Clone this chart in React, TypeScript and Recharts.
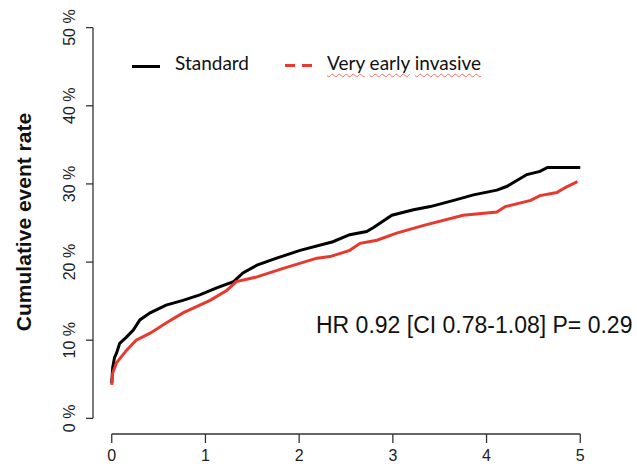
import { LineChart, Line, XAxis, YAxis, ReferenceLine } from "recharts";

const YEARS = [0, 1, 2, 3, 4, 5];
const RATE_TICKS = [0, 10, 20, 30, 40, 50];

const standardTime = [0, 0.01, 0.03, 0.05, 0.085, 0.157, 0.23, 0.3, 0.41, 0.58, 0.76, 0.94, 1.12, 1.3, 1.4, 1.55, 1.76, 2.01, 2.36, 2.54, 2.72, 2.79, 2.99, 3.22, 3.4, 3.65, 3.86, 4.11, 4.22, 4.43, 4.57, 4.65, 5.0];
const standardRate = [4.5, 6.5, 7.8, 8.3, 9.6, 10.4, 11.3, 12.6, 13.5, 14.5, 15.1, 15.8, 16.7, 17.5, 18.6, 19.6, 20.5, 21.5, 22.6, 23.5, 23.9, 24.4, 26.0, 26.7, 27.1, 27.9, 28.6, 29.2, 29.7, 31.2, 31.6, 32.1, 32.1];

const earlyTime = [0, 0.01, 0.05, 0.157, 0.26, 0.41, 0.58, 0.76, 0.94, 1.05, 1.23, 1.33, 1.55, 1.83, 2.19, 2.33, 2.54, 2.65, 2.83, 3.04, 3.33, 3.75, 4.11, 4.2, 4.47, 4.57, 4.75, 4.85, 4.97];
const earlyRate = [4.3, 5.8, 7.1, 8.7, 10.0, 10.9, 12.2, 13.5, 14.5, 15.1, 16.4, 17.5, 18.1, 19.2, 20.5, 20.7, 21.5, 22.4, 22.8, 23.7, 24.7, 26.0, 26.4, 27.1, 27.9, 28.5, 28.9, 29.6, 30.3];

const standardData = standardTime.map((t, i) => ({ t, rate: standardRate[i] }));
const earlyData = earlyTime.map((t, i) => ({ t, rate: earlyRate[i] }));

const RED = "#e8392e";
const FONT = "'Liberation Sans', Arial, Helvetica, sans-serif";

function XTick({ x, y, payload }: any) {
  return (
    <text x={x} y={y + 16} textAnchor="middle" fontFamily={FONT} fontSize={16} fill="#222">
      {payload.value}
    </text>
  );
}

function YTick({ x, y, payload }: any) {
  return (
    <text
      transform={`translate(${x - 9},${y}) rotate(-90)`}
      textAnchor="middle"
      fontFamily={FONT}
      fontSize={16}
      fill="#222"
    >
      {`${payload.value} %`}
    </text>
  );
}

function YTitle() {
  return (
    <text
      transform="translate(31,222) rotate(-90)"
      textAnchor="middle"
      fontFamily={FONT}
      fontSize={21}
      fontWeight="bold"
      fill="#111"
    >
      Cumulative event rate
    </text>
  );
}

const wavy = {
  textDecoration: "underline wavy",
  textDecorationColor: "rgba(232,57,46,0.7)",
  textDecorationThickness: "1px",
  textUnderlineOffset: "3px",
} as const;

export default function App() {
  return (
    <div style={{ position: "absolute", left: 0, top: 0, width: 637, height: 470, background: "#fff" }}>
      <LineChart width={637} height={470} margin={{ top: 12, right: 38, bottom: 0, left: 0 }}>
        <XAxis
          type="number"
          dataKey="t"
          domain={[-0.2, 5.2]}
          ticks={YEARS}
          allowDataOverflow
          axisLine={false}
          tickSize={9}
          tickLine={{ stroke: "#333", strokeWidth: 1.3 }}
          tick={<XTick />}
          height={36}
        />
        <YAxis
          type="number"
          dataKey="rate"
          domain={[-2, 52]}
          ticks={RATE_TICKS}
          allowDataOverflow
          axisLine={false}
          tickSize={7}
          tickLine={{ stroke: "#333", strokeWidth: 1.3 }}
          tick={<YTick />}
          width={93}
          label={<YTitle />}
        />
        <ReferenceLine segment={[{ x: 0, y: -2 }, { x: 5, y: -2 }]} stroke="#333" strokeWidth={1.3} ifOverflow="visible" />
        <ReferenceLine segment={[{ x: -0.2, y: 0 }, { x: -0.2, y: 50 }]} stroke="#333" strokeWidth={1.3} ifOverflow="visible" />
        <Line data={standardData} dataKey="rate" type="linear" stroke="#000" strokeWidth={3} dot={false} isAnimationActive={false} />
        <Line data={earlyData} dataKey="rate" type="linear" stroke={RED} strokeWidth={3} dot={false} isAnimationActive={false} />
      </LineChart>

      <div style={{ position: "absolute", left: 132, top: 65, width: 28, height: 2.5, background: "#000" }} />
      <div style={{ position: "absolute", left: 175, top: 53, fontFamily: "Lato, sans-serif", fontSize: 19, lineHeight: "19px", color: "#111", whiteSpace: "nowrap" }}>
        Standard
      </div>
      <div style={{ position: "absolute", left: 285, top: 64, width: 10, height: 2.5, background: RED }} />
      <div style={{ position: "absolute", left: 302, top: 64, width: 10, height: 2.5, background: RED }} />
      <div style={{ position: "absolute", left: 327, top: 53, fontFamily: "Lato, sans-serif", fontSize: 19, lineHeight: "19px", color: "#111", whiteSpace: "nowrap" }}>
        <span style={wavy}>Very</span> <span style={wavy}>early</span> <span style={wavy}>invasive</span>
      </div>

      <div style={{ position: "absolute", left: 316, top: 314, fontFamily: FONT, fontSize: 23, lineHeight: "23px", color: "#111", whiteSpace: "nowrap" }}>
        HR 0.92 [CI 0.78-1.08] P= 0.29
      </div>
    </div>
  );
}
